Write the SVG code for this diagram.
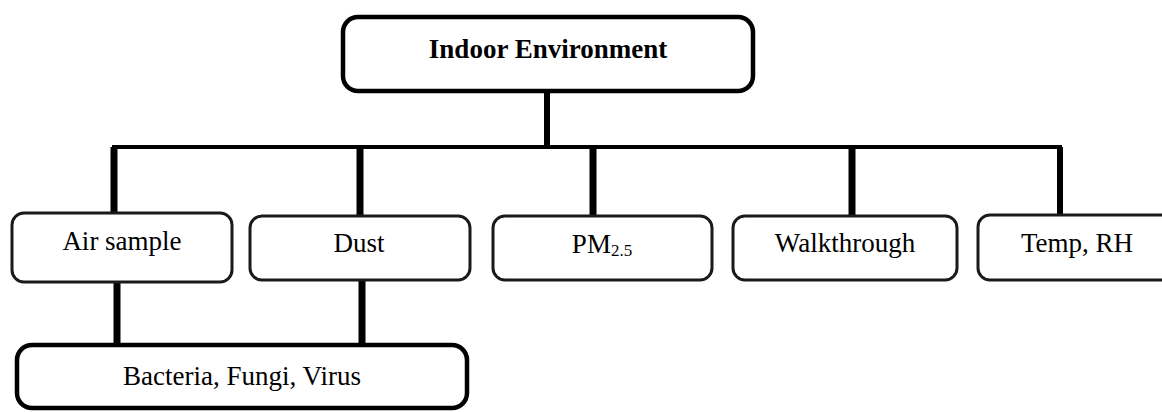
<svg xmlns="http://www.w3.org/2000/svg" width="1162" height="412" viewBox="0 0 1162 412">
<style>
.box{fill:#fff;stroke:#1a1a1a;stroke-width:3}
.main{fill:#fff;stroke:#000;stroke-width:4.5}
.lbl{font-family:"Liberation Serif","Times New Roman",serif;font-size:27px;fill:#000;text-anchor:middle}
.bold{font-weight:bold}
.c{stroke:#000;fill:none}
</style>
<rect width="1162" height="412" fill="#fff"/>
<g id="connectors">
<line class="c" x1="547" y1="91" x2="547" y2="147" stroke-width="6"/>
<polyline class="c" points="114,212 114,147 1060,147 1060,214" stroke-width="4" stroke-linejoin="miter"/>
<line class="c" x1="114" y1="147" x2="114" y2="212" stroke-width="7"/>
<line class="c" x1="360" y1="147" x2="360" y2="216" stroke-width="7"/>
<line class="c" x1="593" y1="147" x2="593" y2="216" stroke-width="7"/>
<line class="c" x1="852" y1="147" x2="852" y2="216" stroke-width="7"/>
<line class="c" x1="1060" y1="147" x2="1060" y2="215" stroke-width="6"/>
<line class="c" x1="117" y1="282" x2="117" y2="345" stroke-width="7"/>
<line class="c" x1="362" y1="280" x2="362" y2="345" stroke-width="7"/>
</g>
<g id="indoor-environment">
<rect class="main" x="343" y="17" width="410" height="74" rx="15"/>
<text class="lbl bold" x="548" y="58">Indoor Environment</text>
</g>
<g id="air-sample">
<rect class="box" x="12" y="213" width="220" height="69" rx="12"/>
<text class="lbl" x="122" y="250">Air sample</text>
</g>
<g id="dust">
<rect class="box" x="250" y="216" width="220" height="64" rx="12"/>
<text class="lbl" x="359" y="252">Dust</text>
</g>
<g id="pm25">
<rect class="box" x="493" y="216" width="219" height="64" rx="12"/>
<text class="lbl" x="602" y="253">PM<tspan font-size="17" dy="3">2.5</tspan></text>
</g>
<g id="walkthrough">
<rect class="box" x="733" y="216" width="224" height="64" rx="12"/>
<text class="lbl" x="845" y="252">Walkthrough</text>
</g>
<g id="temp-rh">
<rect class="box" x="978" y="215" width="200" height="65" rx="12"/>
<text class="lbl" x="1077" y="252">Temp, RH</text>
</g>
<g id="bacteria-fungi-virus">
<rect class="main" x="17" y="345" width="450" height="63" rx="15"/>
<text class="lbl" x="242" y="385">Bacteria, Fungi, Virus</text>
</g>
</svg>
